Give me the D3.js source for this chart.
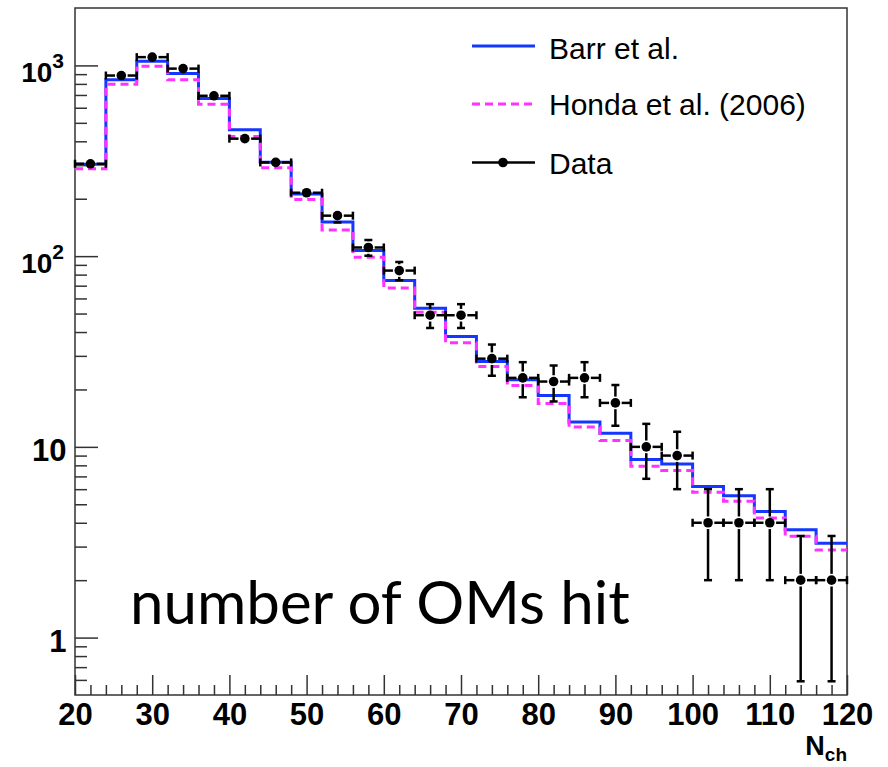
<!DOCTYPE html>
<html><head><meta charset="utf-8">
<script src="https://cdn.jsdelivr.net/npm/d3@7"></script>
<style>body{margin:0;background:#fff}</style>
</head><body>
<script>
// ---- data ----
const binEdges = [20,24,28,32,36,40,44,48,52,56,60,64,68,72,76,80,84,88,92,96,100,104,108,112,116,120];
const binCenters = [22,26,30,34,38,42,46,50,54,58,62,66,70,74,78,82,86,90,94,98,102,106,110,114,118];
const barr  = [303,842,1050,906,670,460,311,212,151,107,74.5,53.3,37.9,28,22.5,18.6,13.5,11.8,8.58,8.14,6.19,5.55,4.58,3.68,3.12];
const honda = [287,796,989,842,625,424,291,198,137,98.8,68,50.8,35.1,26.4,21,16.9,12.7,10.8,7.91,7.51,5.78,5.18,4.24,3.40,2.88];
const dataVals = [305,885,1105,962,693,413,310,215,163,111,84,49,49,29,23,22,23,17,10,9,4,4,4,2,2];
const dataErr  = [17.5,29.7,33.2,31.0,26.3,20.3,17.6,14.7,12.8,10.5,9.2,7,7,5.4,4.8,4.7,4.8,4.1,3.2,3,2,2,2,1.41,1.41];
const yMajor = [1,10,100,1000];
const yMajorLabels = [["1",null],["10",null],["10","2"],["10","3"]];
const yMinor = [0.6,0.7,0.8,0.9,2,3,4,5,6,7,8,9,20,30,40,50,60,70,80,90,200,300,400,500,600,700,800,900];
const xMajor = [20,30,40,50,60,70,80,90,100,110,120];
const xMinor = [22,24,26,28,32,34,36,38,42,44,46,48,52,54,56,58,62,64,66,68,72,74,76,78,82,84,86,88,92,94,96,98,102,104,106,108,112,114,116,118];
const legendItems = ["Barr et al.","Honda et al. (2006)","Data"];

const W=888,H=767, L=75,R=847,T=8,B=695;
const svg=d3.select("body").append("svg").attr("width",W).attr("height",H).style("background","#fff");
const x=d3.scaleLinear().domain([20,120]).range([L,R]);
const y=d3.scaleLog().domain([0.5,2000]).range([B,T]);
const axisColor="#333";
const tickFont="'Liberation Sans', Arial, Helvetica, sans-serif";

// y axis ticks (inside)
const yMaj=svg.append("g").attr("transform",`translate(${L},0)`)
  .call(d3.axisRight(y).tickValues(yMajor).tickSizeInner(23).tickSizeOuter(0).tickFormat(""));
const yMin=svg.append("g").attr("transform",`translate(${L},0)`)
  .call(d3.axisRight(y).tickValues(yMinor).tickSizeInner(12).tickSizeOuter(0).tickFormat(""));
// x axis ticks (inside)
const xMaj=svg.append("g").attr("transform",`translate(0,${B})`)
  .call(d3.axisBottom(x).tickValues(xMajor).tickSizeInner(-20).tickSizeOuter(0).tickPadding(8)
  .tickFormat(d=>d));
const xMin=svg.append("g").attr("transform",`translate(0,${B})`)
  .call(d3.axisBottom(x).tickValues(xMinor).tickSizeInner(-10).tickSizeOuter(0).tickFormat(""));
[yMaj,yMin,xMaj,xMin].forEach(g=>{
  g.select(".domain").remove();
  g.selectAll(".tick line").attr("stroke",axisColor).attr("stroke-width",1.5);
});
xMaj.selectAll(".tick text").attr("font-family",tickFont).attr("font-weight","bold")
  .attr("font-size",31).attr("fill","#000");

// y labels
yMajor.forEach((v,i)=>{
  const [base,sup]=yMajorLabels[i];
  const t=svg.append("text").attr("font-family",tickFont).attr("font-weight","bold").attr("fill","#000")
    .attr("text-anchor","end");
  if(sup){
    t.attr("x",64).attr("y",y(v)+17).attr("font-size",28);
    t.append("tspan").text(base);
    t.append("tspan").attr("dy",-14).attr("font-size",21).text(sup);
  } else {
    t.attr("x",66.5).attr("y",y(v)+14).attr("font-size",31).text(base);
  }
});

// frame
svg.append("rect").attr("x",L).attr("y",T).attr("width",R-L).attr("height",B-T)
  .attr("fill","none").attr("stroke",axisColor).attr("stroke-width",1.5);

// histograms
const stepLine=d3.line().x(d=>x(d[0])).y(d=>y(d[1])).curve(d3.curveStepAfter);
function stepData(vals){ const pts=vals.map((v,i)=>[binEdges[i],v]); pts.push([binEdges[binEdges.length-1],vals[vals.length-1]]); return pts; }
svg.append("path").attr("d",stepLine(stepData(barr))).attr("fill","none")
  .attr("stroke","#1437ff").attr("stroke-width",3);
svg.append("path").attr("d",stepLine(stepData(honda))).attr("fill","none")
  .attr("stroke","#ff33ff").attr("stroke-width",3).attr("stroke-dasharray","8,5");

// data points
const r=4.8, gap=r+1.5, cap=4;
const g=svg.append("g").attr("stroke","#000").attr("stroke-width",2.5);
dataVals.forEach((v,i)=>{
  const cx=x(binCenters[i]), cy=y(v);
  const xl=x(binEdges[i]), xr=x(binEdges[i+1]);
  g.append("line").attr("x1",xl).attr("x2",cx-gap).attr("y1",cy).attr("y2",cy);
  g.append("line").attr("x1",cx+gap).attr("x2",xr).attr("y1",cy).attr("y2",cy);
  g.append("line").attr("x1",xl).attr("x2",xl).attr("y1",cy-cap).attr("y2",cy+cap);
  g.append("line").attr("x1",xr).attr("x2",xr).attr("y1",cy-cap).attr("y2",cy+cap);
  const yt=y(v+dataErr[i]), yb=y(Math.max(v-dataErr[i],0.5));
  if(cy-yt>gap){
    g.append("line").attr("x1",cx).attr("x2",cx).attr("y1",cy-gap).attr("y2",yt);
    g.append("line").attr("x1",cx-cap).attr("x2",cx+cap).attr("y1",yt).attr("y2",yt);
  }
  if(yb-cy>gap){
    g.append("line").attr("x1",cx).attr("x2",cx).attr("y1",cy+gap).attr("y2",yb);
    g.append("line").attr("x1",cx-cap).attr("x2",cx+cap).attr("y1",yb).attr("y2",yb);
  }
  svg.append("circle").attr("cx",cx).attr("cy",cy).attr("r",r).attr("fill","#000");
});

// legend
const legY=[46,104,162.5], legBase=[59,115,174];
const lf="'Liberation Sans', Arial, Helvetica, sans-serif";
svg.append("line").attr("x1",472).attr("x2",535).attr("y1",legY[0]).attr("y2",legY[0]).attr("stroke","#1437ff").attr("stroke-width",3);
svg.append("line").attr("x1",472).attr("x2",535).attr("y1",legY[1]).attr("y2",legY[1]).attr("stroke","#ff33ff").attr("stroke-width",3).attr("stroke-dasharray","8,5");
svg.append("line").attr("x1",472).attr("x2",535).attr("y1",legY[2]).attr("y2",legY[2]).attr("stroke","#000").attr("stroke-width",2.5);
svg.append("circle").attr("cx",503).attr("cy",legY[2]).attr("r",r).attr("fill","#000");
legendItems.forEach((s,i)=>{
  svg.append("text").attr("x",549).attr("y",legBase[i]).attr("font-family",lf).attr("font-size",30).attr("fill","#000").text(s);
});

// big annotation
svg.append("text").attr("x",130).attr("y",624).attr("font-family","'Gill Sans', Lato, sans-serif")
  .attr("font-size",60).attr("fill","#000").text("number of OMs hit");

// x title
const xt=svg.append("text").attr("x",847).attr("y",755).attr("text-anchor","end")
  .attr("font-family",tickFont).attr("font-weight","bold").attr("font-size",27).attr("fill","#000");
xt.append("tspan").text("N");
xt.append("tspan").attr("dy",6).attr("font-size",19).text("ch");
</script>
</body></html>
